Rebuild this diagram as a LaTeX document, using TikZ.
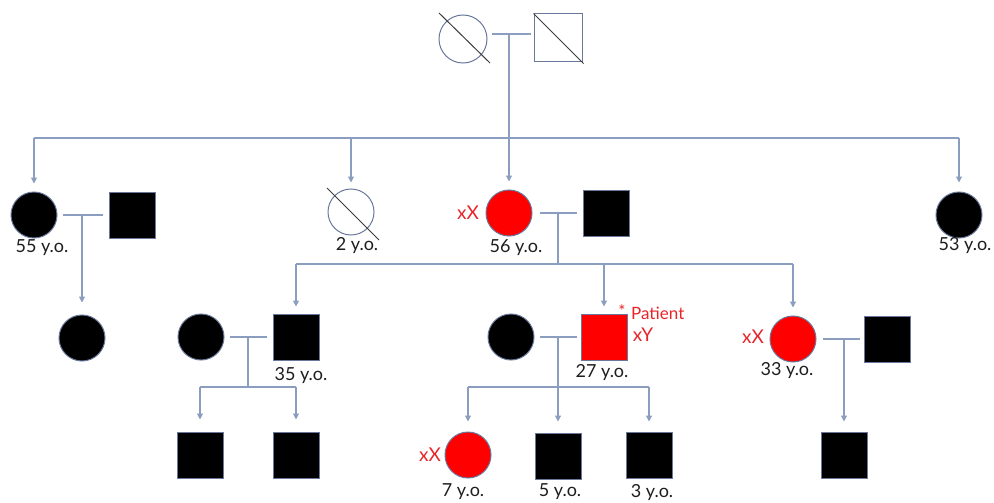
\documentclass[tikz,border=0pt]{standalone}
\usepackage{fontspec}
\setmainfont{Lato}
\usetikzlibrary{arrows.meta}
\definecolor{linkc}{RGB}{140,158,192}
\definecolor{edgec}{RGB}{105,120,155}
\definecolor{affred}{RGB}{255,0,0}
\definecolor{notered}{RGB}{232,36,40}
\definecolor{txt}{RGB}{30,30,30}
\definecolor{slash}{RGB}{60,60,60}
\tikzset{
  female/.style={circle, draw=edgec, line width=1pt, minimum size=46pt, inner sep=0pt},
  male/.style={rectangle, draw=edgec, line width=1pt, minimum size=46pt, inner sep=0pt},
  affected/.style={fill=black},
  carrier/.style={fill=affred},
  link/.style={draw=linkc, line width=1.1pt},
  arr/.style={link, -{Triangle[width=6pt,length=6pt]}},
  dead/.style={draw=slash, line width=1pt},
  age/.style={font=\fontsize{18}{20}\selectfont, text=txt, inner sep=0pt},
  geno/.style={font=\fontsize{19}{21}\selectfont, text=notered, inner sep=0pt},
  note/.style={font=\fontsize{17}{19}\selectfont, text=notered, inner sep=0pt},
}
\begin{document}
\begin{tikzpicture}[x=1pt, y=-1pt]
\useasboundingbox (0,0) rectangle (994,503);

% ---------- generation I ----------
\node[female, minimum size=48pt] (I1) at (463,39) {};
\node[male, minimum size=48pt] (I2) at (558,38) {};
\draw[dead] ([shift={(-24,-26)}]I1.center) -- ([shift={(27,24)}]I1.center);
\draw[dead] (I2.north west) -- ([shift={(1,1)}]I2.south east);
\coordinate (u0) at (509,34);
\coordinate (s0) at (509,138);
\draw[link] ([shift={(4,-5)}]I1.east) -- ([shift={(-3,-4)}]I2.west);

% ---------- generation II ----------
\node[female, affected] (II1) at (34,215) {};
\node[male, affected] (II2) at (132,215) {};
\node[female] (II3) at (351,212) {};
\draw[dead] ([shift={(-24,-24)}]II3.center) -- ([shift={(28,28)}]II3.center);
\node[female, carrier] (II4) at (509,213) {};
\node[male, affected] (II5) at (606,213) {};
\node[female, affected] (II6) at (959,215) {};

\node[age] (a55) at (42,248) {55 y.o.};
\node[age] (a2) at (357,246) {2 y.o.};
\node[age] (a56) at (516,248) {56 y.o.};
\node[age] (a53) at (965,246) {53 y.o.};
\node[geno] (g56) at (468,213) {xX};

% sibship of generation II
\draw[link] (II1.north |- s0) -- (II6.north |- s0);
\draw[link] (u0) -- (s0);
\draw[arr, shorten >=8pt] (II1.north |- s0) -- (II1.north);
\draw[arr, shorten >=6pt] (II3.north |- s0) -- (II3.north);
\draw[arr, shorten >=8pt] (s0) -- (II4.north);
\draw[arr, shorten >=9pt] (II6.north |- s0) -- (II6.north);

% unions of generation II
\coordinate (u1) at (82,215);
\draw[link, shorten <=5pt, shorten >=6pt] (II1) -- (II2);
\coordinate (u2) at (558,213);
\coordinate (c2) at (558,264);
\draw[link, shorten <=7pt, shorten >=6pt] (II4) -- (II5);
\draw[link] (u2) -- (c2);

% ---------- generation III ----------
\node[female, affected] (III1) at (82,338) {};
\node[female, affected] (III2) at (201,337) {};
\node[male, affected] (III3) at (296,337) {};
\node[female, affected] (III4) at (511,337) {};
\node[male, carrier] (III5) at (604,337) {};
\node[female, carrier] (III6) at (793,339) {};
\node[male, affected] (III7) at (887,339) {};

\node[age] (a35) at (301,376) {35 y.o.};
\node[age] (a27) at (602,373) {27 y.o.};
\node[age] (a33) at (787,371) {33 y.o.};
\node[note] (star) at (622,311) {*};
\node[note, anchor=west] (pat) at (631,313) {Patient};
\node[geno] (g27) at (643,335) {xY};
\node[geno] (g33) at (753,337) {xX};

\draw[arr, shorten >=12pt] (u1) -- (III1.north);
\draw[link] (III3.north |- c2) -- (III6.north |- c2);
\draw[arr, shorten >=7pt] (III3.north |- c2) -- (III3.north);
\draw[arr, shorten >=7pt] (III5.north |- c2) -- (III5.north);
\draw[arr, shorten >=8pt] (III6.north |- c2) -- (III6.north);

% unions of generation III
\coordinate (u3) at (248,337);
\coordinate (c3) at (248,387);
\draw[link, shorten <=5pt, shorten >=6pt] (III2) -- (III3);
\draw[link] (u3) -- (c3);
\coordinate (u4) at (558,337);
\coordinate (c4) at (558,387);
\draw[link, shorten <=5pt, shorten >=4pt] (III4) -- (III5);
\draw[link] (u4) -- (c4);
\coordinate (u5) at (844,339);
\draw[link, shorten <=6pt, shorten >=4pt] (III6) -- (III7);

% ---------- generation IV ----------
\node[male, affected] (IV1) at (200,455) {};
\node[male, affected] (IV2) at (296,455) {};
\node[female, carrier] (IV3) at (468,455) {};
\node[male, affected] (IV4) at (558,456) {};
\node[male, affected] (IV5) at (649,455) {};
\node[male, affected] (IV6) at (844,455) {};

\node[age] (a7) at (463,492) {7 y.o.};
\node[age] (a5) at (560,492) {5 y.o.};
\node[age] (a3) at (652,493) {3 y.o.};
\node[geno] (g7) at (430,455) {xX};

\draw[link] (IV1.north |- c3) -- (IV2.north |- c3);
\draw[arr, shorten >=12pt] (IV1.north |- c3) -- (IV1.north);
\draw[arr, shorten >=12pt] (IV2.north |- c3) -- (IV2.north);

\draw[link] (IV3.north |- c4) -- (IV5.north |- c4);
\draw[arr, shorten >=10pt] (IV3.north |- c4) -- (IV3.north);
\draw[arr, shorten >=11pt] (c4) -- (IV4.north);
\draw[arr, shorten >=10pt] (IV5.north |- c4) -- (IV5.north);

\draw[arr, shorten >=10pt] (u5) -- (IV6.north);
\end{tikzpicture}
\end{document}
